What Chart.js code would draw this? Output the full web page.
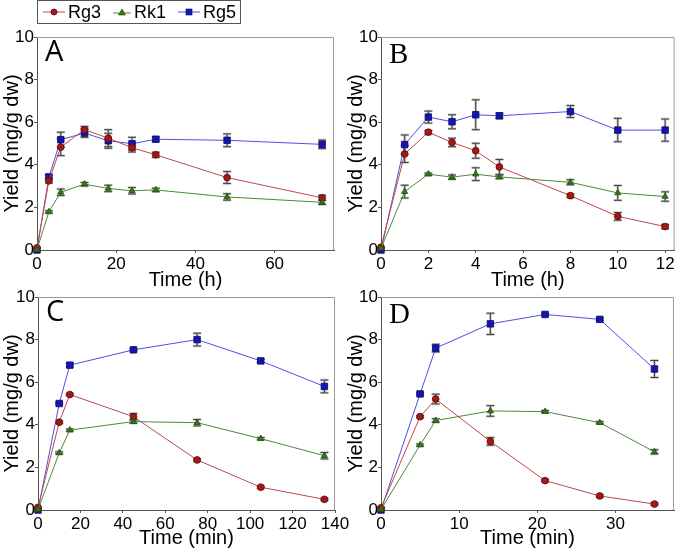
<!DOCTYPE html>
<html>
<head>
<meta charset="utf-8">
<script src="https://cdn.jsdelivr.net/npm/chart.js@4"></script>
<style>
  body { margin: 0; background: #fff; }
  #wrap { position: relative; width: 680px; height: 553px; overflow: hidden; }
  #wrap canvas { position: absolute; left: 0; top: 0; }
  #legend {
    position: absolute; left: 37px; top: 0px; width: 204px; height: 24px;
    border: 1px solid #555; box-sizing: border-box;
    font-family: "Liberation Sans", Arial, sans-serif; font-size: 18px;
    display: flex; align-items: center; padding-left: 5px;
  }
  #legend span { display: inline-flex; align-items: center; margin-right: 12px; }
  #legend svg { margin-right: 3px; }
</style>
</head>
<body>
<div id="wrap">
  <canvas id="cA" width="680" height="553"></canvas>
  <canvas id="cB" width="680" height="553"></canvas>
  <canvas id="cC" width="680" height="553"></canvas>
  <canvas id="cD" width="680" height="553"></canvas>
  <div id="legend">
    <span><svg width="22" height="10"><line x1="0" y1="5" x2="22" y2="5" stroke="#c04848" stroke-width="1"/><circle cx="11" cy="5" r="3" fill="#a51818" stroke="#5a0a0a" stroke-width="0.8"/></svg>Rg3</span>
    <span><svg width="18" height="10"><line x1="0" y1="6" x2="18" y2="6" stroke="#4a8a3a" stroke-width="1"/><polygon points="9,2 12.5,8 5.5,8" fill="#2f7a14" stroke="#1f4f0c" stroke-width="0.6"/></svg>Rk1</span>
    <span><svg width="22" height="10"><line x1="0" y1="5" x2="22" y2="5" stroke="#5050e0" stroke-width="1"/><rect x="8" y="2" width="6" height="6" fill="#1515b5" stroke="#0a0a60" stroke-width="0.6"/></svg>Rg5</span>
  </div>
</div>
<script>
// Panel A (hours)
const timeA = [0, 3, 6, 12, 18, 24, 30, 48, 72];
const rg3A = [0.1, 3.25, 4.83, 5.65, 5.25, 4.8, 4.47, 3.4, 2.45];
const rk1A = [0.02, 1.79, 2.71, 3.09, 2.89, 2.78, 2.82, 2.49, 2.24];
const rg5A = [0, 3.43, 5.18, 5.49, 5.13, 4.99, 5.2, 5.15, 4.96];
const errRg3A = [0, 0.1, 0.4, 0.15, 0.4, 0.2, 0.12, 0.28, 0.12];
const errRk1A = [0, 0.05, 0.15, 0.08, 0.15, 0.15, 0.08, 0.15, 0.1];
const errRg5A = [0, 0.1, 0.35, 0.2, 0.35, 0.3, 0.1, 0.3, 0.2];

// Panel B (hours)
const timeB = [0, 1, 2, 3, 4, 5, 8, 10, 12];
const rg3B = [0.13, 4.51, 5.53, 5.05, 4.66, 3.9, 2.55, 1.58, 1.1];
const rk1B = [0.08, 2.74, 3.56, 3.42, 3.56, 3.43, 3.18, 2.68, 2.51];
const rg5B = [0, 4.95, 6.24, 6.02, 6.35, 6.3, 6.5, 5.63, 5.63];
const errRg3B = [0, 0.4, 0.08, 0.2, 0.35, 0.35, 0.08, 0.18, 0.1];
const errRk1B = [0, 0.3, 0.05, 0.1, 0.3, 0.08, 0.12, 0.35, 0.22];
const errRg5B = [0, 0.45, 0.28, 0.33, 0.7, 0.12, 0.28, 0.55, 0.52];

// Panel C (minutes)
const timeC = [0, 10, 15, 45, 75, 105, 135];
const rg3C = [0.12, 4.12, 5.42, 4.38, 2.35, 1.07, 0.5];
const rk1C = [0.02, 2.68, 3.75, 4.15, 4.1, 3.35, 2.55];
const rg5C = [0, 5.0, 6.8, 7.52, 8.0, 7.0, 5.8];
const errRg3C = [0, 0.05, 0.05, 0.15, 0.05, 0.05, 0.05];
const errRk1C = [0, 0.05, 0.05, 0.08, 0.15, 0.05, 0.15];
const errRg5C = [0, 0.05, 0.08, 0.05, 0.3, 0.08, 0.3];

// Panel D (minutes)
const timeD = [0, 5, 7, 14, 21, 28, 35];
const rg3D = [0.1, 4.38, 5.21, 3.22, 1.38, 0.66, 0.28];
const rk1D = [0.02, 3.05, 4.2, 4.65, 4.62, 4.1, 2.73];
const rg5D = [0, 5.45, 7.6, 8.74, 9.18, 8.95, 6.62];
const errRg3D = [0, 0.05, 0.23, 0.18, 0.05, 0.05, 0.05];
const errRk1D = [0, 0.05, 0.08, 0.25, 0.05, 0.05, 0.1];
const errRg5D = [0, 0.05, 0.18, 0.5, 0.05, 0.05, 0.4];

const yTicks = [0, 2, 4, 6, 8, 10];
const FONT = '"Liberation Sans", Arial, sans-serif';

const errorBars = {
  id: "errorBars",
  beforeDatasetsDraw(chart) {
    const ctx = chart.ctx, x = chart.scales.x, y = chart.scales.y;
    ctx.save();
    chart.data.datasets.forEach((ds) => {
      ds.data.forEach((p, i) => {
        const e = ds.errors[i];
        if (!e) return;
        const px = x.getPixelForValue(p.x);
        const y1 = y.getPixelForValue(p.y + e), y2 = y.getPixelForValue(p.y - e);
        ctx.strokeStyle = "rgba(150,150,150,0.6)";
        ctx.lineWidth = 2.5;
        ctx.beginPath();
        ctx.moveTo(px, y1); ctx.lineTo(px, y2);
        ctx.moveTo(px - 4, y1); ctx.lineTo(px + 4, y1);
        ctx.moveTo(px - 4, y2); ctx.lineTo(px + 4, y2);
        ctx.stroke();
        ctx.strokeStyle = "#444";
        ctx.lineWidth = 1;
        ctx.stroke();
      });
    });
    ctx.restore();
  },
};

const frame = {
  id: "frame",
  afterDraw(chart, args, opts) {
    const { ctx, chartArea: a } = chart;
    ctx.save();
    ctx.strokeStyle = "#9a9a9a";
    ctx.lineWidth = 1;
    ctx.beginPath();
    ctx.moveTo(a.left, a.top + 0.5); ctx.lineTo(a.right - 0.5, a.top + 0.5); ctx.lineTo(a.right - 0.5, a.bottom);
    ctx.stroke();
    ctx.fillStyle = "#000";
    ctx.font = opts.font;
    ctx.textBaseline = "top";
    ctx.fillText(opts.letter, a.left + 8, a.top + opts.dy);
    ctx.restore();
  },
};

function serie(label, xs, ys, errs, color, lineColor, border, style, r) {
  return {
    label,
    data: xs.map((t, i) => ({ x: t, y: ys[i] })),
    errors: errs,
    borderColor: lineColor,
    borderWidth: 1,
    backgroundColor: color,
    pointBackgroundColor: color,
    pointBorderColor: border,
    pointBorderWidth: 0.8,
    pointStyle: style,
    pointRadius: r,
    tension: 0,
    clip: false,
  };
}

function panel(id, p) {
  new Chart(document.getElementById(id), {
    type: "line",
    data: {
      datasets: [
        serie("Rk1", p.t, p.rk1, p.eRk1, "#2f7a14", "#4a8a3a", "#1f4f0c", "triangle", 3.6),
        serie("Rg3", p.t, p.rg3, p.eRg3, "#a51818", "#c04848", "#5a0a0a", "circle", 3.4),
        serie("Rg5", p.t, p.rg5, p.eRg5, "#1515b5", "#5050e0", "#0a0a60", "rect", 4.6),
      ],
    },
    options: {
      responsive: false,
      animation: false,
      events: [],
      layout: { padding: p.pad },
      plugins: {
        legend: { display: false },
        tooltip: { enabled: false },
        frame: { letter: p.letter, font: p.letterFont, dy: p.dy },
      },
      scales: {
        x: {
          type: "linear",
          min: 0,
          max: p.xmax,
          afterFit: (s) => { s.height = p.xh; },
          grid: { drawOnChartArea: false, drawTicks: true, tickLength: 3, color: "#555" },
          border: { color: "#555", width: 1 },
          ticks: { stepSize: p.step, includeBounds: false, color: "#000", padding: 1, font: { family: FONT, size: 17 } },
          title: { display: true, text: p.xtitle, color: "#000", padding: 0, font: { family: FONT, size: 20 } },
        },
        y: {
          min: 0,
          max: 10,
          afterFit: (s) => { s.width = p.yw; },
          afterBuildTicks: (s) => { s.ticks = yTicks.map((v) => ({ value: v })); },
          grid: { drawOnChartArea: false, drawTicks: true, tickLength: 3, color: "#555" },
          border: { color: "#555", width: 1 },
          ticks: { color: "#000", padding: 0, font: { family: FONT, size: 17 } },
          title: { display: true, text: "Yield (mg/g dw)", color: "#000", padding: 0, font: { family: FONT, size: 20 } },
        },
      },
    },
    plugins: [errorBars, frame],
  });
}

panel("cA", {
  t: timeA, rg3: rg3A, rk1: rk1A, rg5: rg5A, eRg3: errRg3A, eRk1: errRk1A, eRg5: errRg5A,
  xmax: 75, step: 20, xtitle: "Time (h)", letter: "A", letterFont: '29px "Open Sans"', dy: 1,
  pad: { left: 0, right: 346, top: 37, bottom: 261 }, yw: 37, xh: 42,
});
panel("cB", {
  t: timeB, rg3: rg3B, rk1: rk1B, rg5: rg5B, eRg3: errRg3B, eRk1: errRk1B, eRg5: errRg5B,
  xmax: 12.4, step: 2, xtitle: "Time (h)", letter: "B", letterFont: '29px "Liberation Serif"', dy: 4,
  pad: { left: 344, right: 5, top: 37, bottom: 261 }, yw: 37, xh: 42,
});
panel("cC", {
  t: timeC, rg3: rg3C, rk1: rk1C, rg5: rg5C, eRg3: errRg3C, eRk1: errRk1C, eRg5: errRg5C,
  xmax: 140, step: 20, xtitle: "Time (min)", letter: "C", letterFont: '29px "Open Sans"', dy: 1,
  pad: { left: 0, right: 345, top: 297, bottom: 3 }, yw: 38, xh: 40,
});
panel("cD", {
  t: timeD, rg3: rg3D, rk1: rk1D, rg5: rg5D, eRg3: errRg3D, eRk1: errRk1D, eRg5: errRg5D,
  xmax: 37.5, step: 10, xtitle: "Time (min)", letter: "D", letterFont: '29px "Liberation Serif"', dy: 4,
  pad: { left: 344, right: 6, top: 297, bottom: 3 }, yw: 37, xh: 40,
});
</script>
</body>
</html>
